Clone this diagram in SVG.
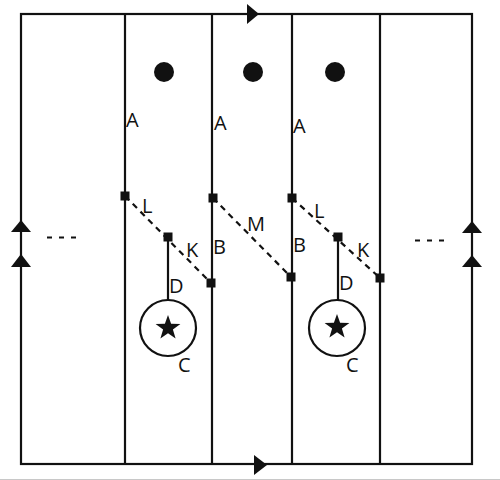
<svg xmlns="http://www.w3.org/2000/svg" width="500" height="480" viewBox="0 0 500 480">
<style>
.ln{stroke:#111;stroke-width:2.2;fill:none}
.dash{stroke:#111;stroke-width:2.2;stroke-dasharray:6 5;fill:none}
.sq{fill:#111}
.t{font-family:"Open Sans","DejaVu Sans",sans-serif;font-size:20px;fill:#111}
.tri{fill:#111}
</style>
<rect width="500" height="480" fill="#fff"/>
<line x1="0" y1="479.5" x2="500" y2="479.5" stroke="#c8c8c8" stroke-width="1"/>
<g id="frame">
<rect x="21" y="14" width="451" height="450" class="ln" stroke-width="2.6"/>
<line x1="125" y1="14" x2="125" y2="464" class="ln"/>
<line x1="212" y1="14" x2="212" y2="464" class="ln"/>
<line x1="292" y1="14" x2="292" y2="464" class="ln"/>
<line x1="380" y1="14" x2="380" y2="464" class="ln"/>
<polygon class="tri" points="247,4 259,14 247,24"/>
<polygon class="tri" points="254,455 267,465 254,475"/>
<polygon class="tri" points="21,220 11,232 31,232"/>
<polygon class="tri" points="21,254 11,267 31,267"/>
<polygon class="tri" points="472,221 462,233 482,233"/>
<polygon class="tri" points="472,255 462,267 482,267"/>
<line x1="47" y1="237.5" x2="77" y2="237.5" stroke="#111" stroke-width="2" stroke-dasharray="5 7"/>
<line x1="415" y1="240.5" x2="445" y2="240.5" stroke="#111" stroke-width="2" stroke-dasharray="5 7"/>
</g>
<g id="dots">
<circle cx="164" cy="72" r="10" fill="#111"/>
<circle cx="253" cy="72" r="10" fill="#111"/>
<circle cx="335" cy="72" r="10" fill="#111"/>
</g>
<g id="connectors">
<line x1="125" y1="196" x2="211" y2="283" class="dash"/>
<line x1="213" y1="198" x2="291" y2="277" class="dash"/>
<line x1="292" y1="198" x2="380" y2="278" class="dash"/>
<line x1="168" y1="237" x2="168" y2="300" class="ln" stroke-width="1.6"/>
<line x1="338" y1="237" x2="338" y2="300" class="ln" stroke-width="1.6"/>
</g>
<g id="squares">
<rect class="sq" x="120.5" y="191.5" width="9" height="9"/>
<rect class="sq" x="163.5" y="232.5" width="9" height="9"/>
<rect class="sq" x="206.5" y="278.5" width="9" height="9"/>
<rect class="sq" x="208.5" y="193.5" width="9" height="9"/>
<rect class="sq" x="286.5" y="272.5" width="9" height="9"/>
<rect class="sq" x="287.5" y="193.5" width="9" height="9"/>
<rect class="sq" x="333.5" y="232.5" width="9" height="9"/>
<rect class="sq" x="375.5" y="273.5" width="9" height="9"/>
</g>
<g id="node-left">
<circle cx="168" cy="328" r="28" class="ln" stroke-width="1.8"/>
<polygon fill="#111" transform="translate(168,328)" points="0,-13 3.1,-4.2 12.4,-4 4.9,1.6 7.6,10.5 0,5.2 -7.6,10.5 -4.9,1.6 -12.4,-4 -3.1,-4.2"/>
</g>
<g id="node-right">
<circle cx="337" cy="328" r="28" class="ln" stroke-width="1.8"/>
<polygon fill="#111" transform="translate(337,327)" points="0,-13 3.1,-4.2 12.4,-4 4.9,1.6 7.6,10.5 0,5.2 -7.6,10.5 -4.9,1.6 -12.4,-4 -3.1,-4.2"/>
</g>
<g id="labels">
<text class="t" x="126" y="127">A</text>
<text class="t" x="214" y="130">A</text>
<text class="t" x="293" y="133">A</text>
<text class="t" x="142" y="213">L</text>
<text class="t" x="186" y="257">K</text>
<text class="t" x="213" y="254">B</text>
<text class="t" x="247" y="231">M</text>
<text class="t" x="169" y="293">D</text>
<text class="t" x="178" y="372">C</text>
<text class="t" x="314" y="218">L</text>
<text class="t" x="293" y="252">B</text>
<text class="t" x="357" y="257">K</text>
<text class="t" x="339" y="290">D</text>
<text class="t" x="346" y="372">C</text>
</g>
</svg>
